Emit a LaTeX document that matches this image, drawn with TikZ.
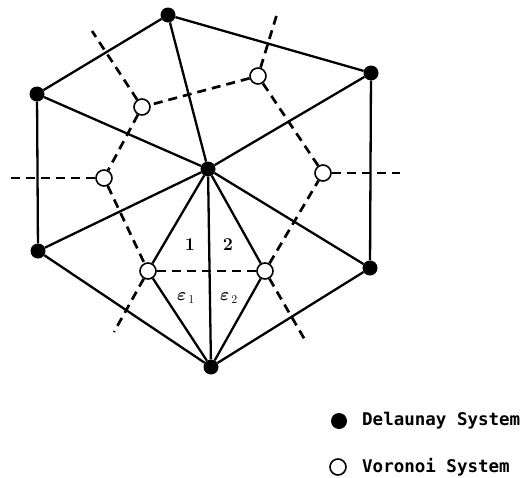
\documentclass[tikz,border=0pt]{standalone}
\usepackage{fontspec}
\usepackage{amsmath}
\newfontfamily\legendfont{DejaVu Sans Mono}
\begin{document}
\begin{tikzpicture}[x=1pt,y=-1pt,
  dnode/.style={circle, fill=black, inner sep=0pt, minimum size=15pt},
  vnode/.style={circle, draw=black, fill=white, line width=1.6pt, inner sep=0pt, minimum size=16pt},
  dedge/.style={line width=2.3pt},
  vedge/.style={line width=2.7pt, dash pattern=on 9pt off 6pt},
  lbl/.style={font=\bfseries\fontsize{18}{18}\selectfont, inner sep=0pt},
  legtext/.style={font=\legendfont\bfseries\fontsize{17.5}{17.5}\selectfont, anchor=west, inner sep=0pt}]
\useasboundingbox (0,0) rectangle (530,477);
% Delaunay points
\node[dnode] (T)  at (168,15) {};
\node[dnode] (UR) at (371,73) {};
\node[dnode] (UL) at (37,94) {};
\node[dnode] (C)  at (208,169) {};
\node[dnode] (LL) at (38,251) {};
\node[dnode] (LR) at (370,268) {};
\node[dnode] (B)  at (211,367) {};
% Voronoi points
\node[vnode] (V1) at (258,76) {};
\node[vnode] (V2) at (142,107) {};
\node[vnode] (V3) at (104,178) {};
\node[vnode] (V4) at (323,173) {};
\node[vnode] (V5) at (148,271) {};
\node[vnode] (V6) at (265,271) {};
% free ends of rays
\coordinate (R1) at (277,14);
\coordinate (R2) at (92,31);
\coordinate (R3) at (11,178);
\coordinate (R4) at (400,173);
\coordinate (R5) at (114,332);
\coordinate (R6) at (305,340);
% Delaunay edges
\draw[dedge] (T) -- (UR) -- (LR) -- (B) -- (LL) -- (UL) -- (T);
\draw[dedge] (C) -- (T);
\draw[dedge] (C) -- (UR);
\draw[dedge] (C) -- (LR);
\draw[dedge] (C) -- (B);
\draw[dedge] (C) -- (LL);
\draw[dedge] (C) -- (UL);
\draw[dedge] (C) -- (V5);
\draw[dedge] (C) -- (V6);
\draw[dedge] (V5) -- (B);
\draw[dedge] (V6) -- (B);
% Voronoi edges
\draw[vedge] (V1) -- (V2);
\draw[vedge] (V2) -- (V3);
\draw[vedge] (V3) -- (V5);
\draw[vedge] (V5) -- (V6);
\draw[vedge] (V6) -- (V4);
\draw[vedge] (V4) -- (V1);
\draw[vedge] (V1) -- (R1);
\draw[vedge] (V2) -- (R2);
\draw[vedge] (V3) -- (R3);
\draw[vedge] (V4) -- (R4);
\draw[vedge] (V5) -- (R5);
\draw[vedge] (V6) -- (R6);
% labels
\node[lbl] (l1) at (190,245) {1};
\node[lbl] (l2) at (228,245) {2};
\node[lbl] (e1) at (186,298) {$\boldsymbol{\varepsilon}_{\,1}$};
\node[lbl] (e2) at (229,298) {$\boldsymbol{\varepsilon}_{\,2}$};
% legend
\node[dnode, minimum size=16pt] (kd) at (339,421) {};
\node[vnode, minimum size=16pt] (kv) at (338,467) {};
\node[legtext] (td) at (362,421) {Delaunay System};
\node[legtext] (tv) at (362,467) {Voronoi System};
\end{tikzpicture}
\end{document}
